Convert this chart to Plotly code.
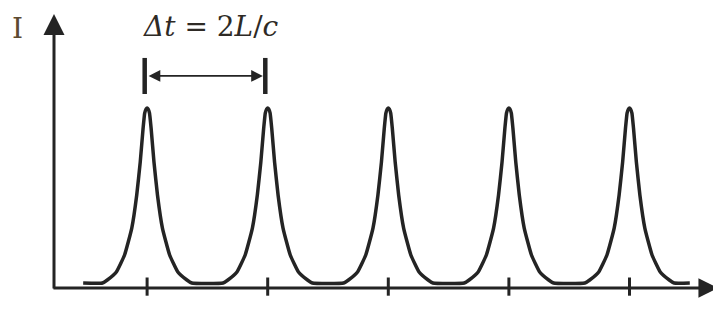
import plotly.graph_objects as go

# ---- data ----
peak_times = [1, 2, 3, 4, 5]                       # pulse positions (units of Δt)
pulse_offsets = [-0.37, -0.33, -0.255, -0.187, -0.127, -0.086, -0.057, -0.033, -0.02, -0.008,
                 0.0, 0.008, 0.02, 0.033, 0.057, 0.086, 0.127, 0.187, 0.255, 0.33, 0.37]
pulse_levels = [0.0, 0.017, 0.063, 0.16, 0.314, 0.503, 0.691, 0.886, 0.971, 0.995,
                1.0, 0.995, 0.971, 0.886, 0.691, 0.503, 0.314, 0.16, 0.063, 0.017, 0.0]
trace_start, trace_end = 0.47, 5.5                 # flat baseline extent
y_label = "I"
x_label = "t"
spacing_label = "<i>Δt</i> = 2<i>L</i>/<i>c</i>"

# ---- build the curve from the pulse profile ----
tx = [trace_start]
iy = [0.0]
for c in peak_times:
    for o, v in zip(pulse_offsets, pulse_levels):
        tx.append(c + o)
        iy.append(v)
tx.append(trace_end)
iy.append(0.0)

INK = "#242424"
X_RANGE = [-0.1534, 5.825]
Y_RANGE = [-0.3486, 1.5714]
AX_T = 0.228      # vertical axis position
AX_I = -0.0286    # horizontal axis position

fig = go.Figure()
fig.add_trace(go.Scatter(x=tx, y=iy, mode="lines",
                         line=dict(color=INK, width=3.5, shape="spline", smoothing=0.4),
                         hoverinfo="skip"))
# ticks on the time axis at each pulse
fig.add_trace(go.Scatter(x=peak_times, y=[AX_I + 0.008] * len(peak_times), mode="markers",
                         marker=dict(symbol="line-ns", size=13, line=dict(color=INK, width=3)),
                         hoverinfo="skip"))
# bracket bars above the first two pulses
for c in peak_times[:2]:
    fig.add_trace(go.Scatter(x=[c - 0.02, c - 0.02], y=[1.08, 1.286], mode="lines",
                             line=dict(color=INK, width=4.5), hoverinfo="skip"))

annotations = [
    # y axis arrow
    dict(x=AX_T, y=1.537, ax=AX_T, ay=AX_I - 0.012, xref="x", yref="y", axref="x", ayref="y",
         text="", showarrow=True, arrowhead=2, arrowsize=1.4, arrowwidth=3, arrowcolor=INK, standoff=0),
    # x axis arrow
    dict(x=5.734, y=AX_I, ax=0.211, ay=AX_I, xref="x", yref="y", axref="x", ayref="y",
         text="", showarrow=True, arrowhead=2, arrowsize=1.4, arrowwidth=2.8, arrowcolor=INK, standoff=0),
    # double arrow Δt
    dict(x=peak_times[1] - 0.04, y=1.183, ax=peak_times[0] + 0.0, ay=1.183,
         xref="x", yref="y", axref="x", ayref="y",
         text="", showarrow=True, arrowside="end+start", arrowhead=2, startarrowhead=2,
         arrowsize=1.3, startarrowsize=1.3, arrowwidth=1.8, arrowcolor=INK, standoff=0, startstandoff=0),
    dict(x=1.526, y=1.463, xref="x", yref="y", text=spacing_label, showarrow=False,
         xanchor="center", yanchor="middle",
         font=dict(family="DejaVu Serif", size=28, color="#2e2a25")),
    dict(x=-0.075, y=1.455, xref="x", yref="y", text=y_label, showarrow=False,
         xanchor="center", yanchor="middle",
         font=dict(family="DejaVu Serif", size=28, color="#5c4a30")),
    dict(x=5.735, y=-0.26, xref="x", yref="y", text=x_label, showarrow=False,
         xanchor="left", yanchor="middle",
         font=dict(family="DejaVu Serif", size=22, color="#5c4a30")),
]

fig.update_layout(
    width=721, height=336, margin=dict(l=0, r=0, t=0, b=0),
    paper_bgcolor="white", plot_bgcolor="white", showlegend=False,
    xaxis=dict(range=X_RANGE, visible=False, fixedrange=True),
    yaxis=dict(range=Y_RANGE, visible=False, fixedrange=True),
    annotations=annotations,
)
fig.write_html("out.html")
